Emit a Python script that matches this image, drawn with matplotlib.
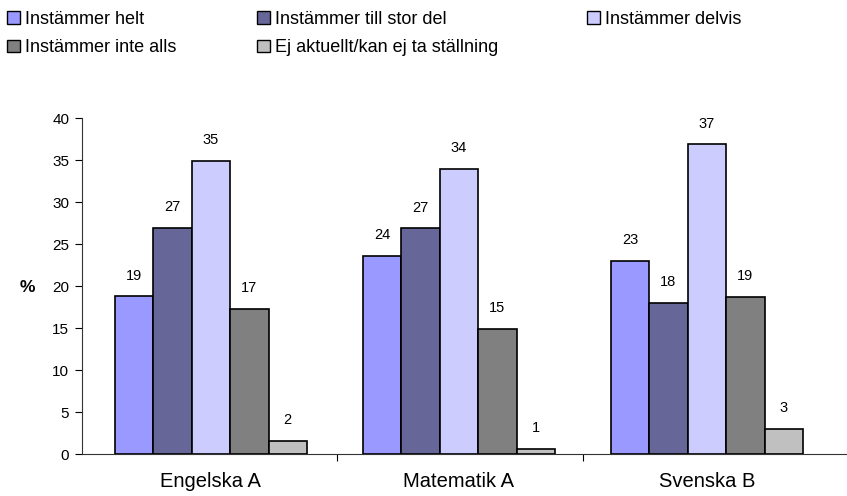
import matplotlib
matplotlib.use('Agg')
import matplotlib.pyplot as plt
from matplotlib.patches import Patch
import numpy as np

plt.rcParams['font.family'] = ['Liberation Sans', 'DejaVu Sans']

categories = ['Engelska A', 'Matematik A', 'Svenska B']
series = ['Instämmer helt', 'Instämmer till stor del', 'Instämmer delvis',
          'Instämmer inte alls', 'Ej aktuellt/kan ej ta ställning']
colors = ['#9999FF', '#666699', '#CCCCFF', '#808080', '#C0C0C0']

# bar heights (labels are rounded)
helt = [18.8, 23.6, 23.0]
stor_del = [27.0, 26.9, 18.0]
delvis = [34.9, 34.0, 36.9]
inte_alls = [17.3, 14.9, 18.7]
ej_aktuellt = [1.6, 0.6, 3.0]
values = [helt, stor_del, delvis, inte_alls, ej_aktuellt]

fig = plt.figure(figsize=(8.47, 4.96), dpi=100)
ax = fig.add_axes([81.7/847, 41.7/496, (847-81.7)/847, (454.3-118.3)/496])

x = np.arange(len(categories))
w = 0.155
for i, (vals, c) in enumerate(zip(values, colors)):
    pos = x + (i - 2) * w
    ax.bar(pos, vals, width=w, color=c, edgecolor='black', linewidth=1.2, zorder=3)
    for p, v in zip(pos, vals):
        ax.annotate(str(int(v + 0.5)), (p, v), xytext=(0, 15), textcoords='offset points',
                    ha='center', va='center', fontsize=10.5)

ax.set_xlim(-0.521, 2.565)
ax.set_ylim(0, 40)
ax.set_yticks(np.arange(0, 41, 5))
ax.tick_params(axis='y', labelsize=11, length=5, width=0.8, pad=4)
ax.set_xticks(x)
ax.set_xticklabels(categories, fontsize=14.5)
ax.tick_params(axis='x', length=0, pad=13)
ax.set_xticks([0.51, 1.5], minor=True)
ax.tick_params(axis='x', which='minor', length=5, width=0.8)

for s in ['top', 'right']:
    ax.spines[s].set_visible(False)
ax.spines['left'].set_color('#333333')
ax.spines['bottom'].set_color('#333333')
ax.spines['left'].set_linewidth(0.8)
ax.spines['bottom'].set_linewidth(0.8)

fig.text(20/847, 1 - 288/496, '%', fontsize=12.5, fontweight='bold', ha='left', va='center')

# legend: one small legend per column, rows filled left to right
handles = [Patch(facecolor=c, edgecolor='black', linewidth=1.0) for c in colors]
columns = [[0, 3], [1, 4], [2]]
col_x = [7, 257, 587]
for idx, cx in zip(columns, col_x):
    leg = fig.legend([handles[i] for i in idx], [series[i] for i in idx],
                     loc='upper left', bbox_to_anchor=(cx/847, 1 - 11/496), frameon=False,
                     fontsize=13, handlelength=0.7, handleheight=0.7, handletextpad=0.3,
                     labelspacing=0.62, borderaxespad=0, borderpad=0)

fig.savefig('out.png', dpi=100)
